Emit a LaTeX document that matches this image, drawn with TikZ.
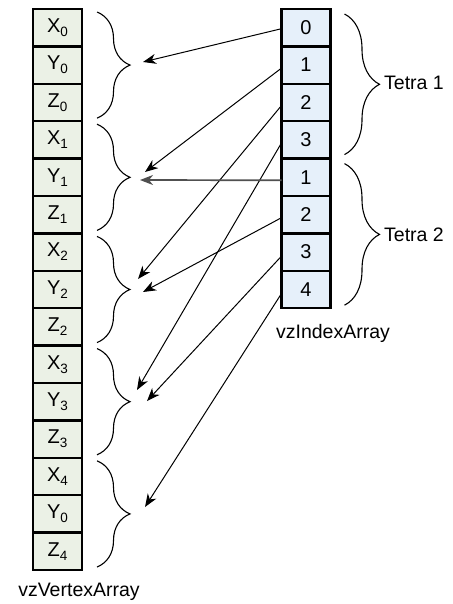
\documentclass[tikz,border=0pt]{standalone}
\usepackage{fontspec}
\setmainfont{Liberation Sans}
\usetikzlibrary{arrows.meta,decorations.pathreplacing}
\definecolor{vfill}{HTML}{EBF1E6}
\definecolor{ifill}{HTML}{E6F0FA}
\definecolor{darkline}{HTML}{505050}
\newcommand{\vsub}[2]{#1\raisebox{-4pt}{\fontsize{13.5}{14}\selectfont #2}}
\begin{document}
\begin{tikzpicture}[x=1pt,y=-1pt,
  cellbase/.style={draw=black, line width=2.4pt, minimum width=49pt, minimum height=37.4pt, inner sep=0pt, outer sep=0pt, font=\fontsize{20}{22}\selectfont},
  vcell/.style={cellbase, fill=vfill},
  icell/.style={cellbase, fill=ifill},
  lbl/.style={font=\fontsize{19.5}{22}\selectfont, inner sep=0pt},
  bracedeco/.style={decorate, decoration={brace, amplitude=#1}, line width=1.1pt},
  arr/.style={-{Stealth[length=13pt,width=10pt,inset=4pt]}, line width=1pt, black},
  grayarr/.style={-{Stealth[length=13pt,width=10pt,inset=4pt]}, line width=1.7pt, darkline}]
\useasboundingbox (0,0) rectangle (452,604);
\foreach \l/\s [count=\k from 0] in {X/0,Y/0,Z/0,X/1,Y/1,Z/1,X/2,Y/2,Z/2,X/3,Y/3,Z/3,X/4,Y/0,Z/4}
  \node[vcell] (v\k) at (57.5, {27.7+37.4*\k}) {\vsub{\l}{\s}};
\foreach \n [count=\k from 0] in {0,1,2,3,1,2,3,4}
  \node[icell] (i\k) at (306, {27.7+37.4*\k}) {\n};
% left braces
\foreach \a/\b in {0/2,3/5,6/8,9/11,12/14}
  \draw[bracedeco=33pt] ([xshift=15pt,yshift=-3pt]v\a.north east) -- ([xshift=15pt,yshift=3pt]v\b.south east);
% right braces
\draw[bracedeco=35pt] ([xshift=14pt,yshift=-5pt]i0.north east) -- ([xshift=14pt,yshift=4pt]i3.south east);
\draw[bracedeco=35pt] ([xshift=14pt,yshift=-5pt]i4.north east) -- ([xshift=14pt,yshift=3pt]i7.south east);
\node[lbl, anchor=west] (tetra1) at (384, 83) {Tetra 1};
\node[lbl, anchor=west] (tetra2) at (384, 235) {Tetra 2};
\node[lbl] (vlabel) at (79, 592) {vzVertexArray};
\node[lbl] (ilabel) at (333, 333) {vzIndexArray};
% arrow targets
\coordinate (t0) at (143,62);
\coordinate (t1) at (145,172);
\coordinate (t1b) at (140,180);
\coordinate (t2) at (138,279);
\coordinate (t2b) at (143,292);
\coordinate (t3) at (137,390);
\coordinate (t3b) at (147,401);
\coordinate (t4) at (145,507);
\draw[arr] ([yshift=-1pt]i0.west) -- (t0);
\draw[arr] ([yshift=-3pt]i1.west) -- (t1);
\draw[arr] ([yshift=-3pt]i2.west) -- (t2);
\draw[arr] ([yshift=-3pt]i3.west) -- (t3);
\draw[grayarr] ([yshift=-3pt]i4.west) -- (t1b);
\draw[arr] ([yshift=-3pt]i5.west) -- (t2b);
\draw[arr] ([yshift=-4pt]i6.west) -- (t3b);
\draw[arr] ([yshift=-4pt]i7.west) -- (t4);
\end{tikzpicture}
\end{document}
